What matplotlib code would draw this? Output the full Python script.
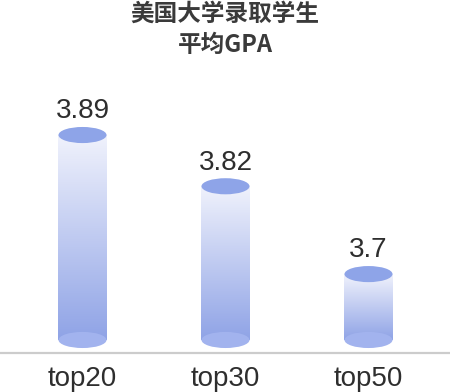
import numpy as np
import matplotlib
matplotlib.use("Agg")
import matplotlib.pyplot as plt
from matplotlib.patches import Ellipse, Rectangle
from matplotlib.colors import LinearSegmentedColormap

categories = ["top20", "top30", "top50"]
gpa = [3.89, 3.82, 3.7]
title = "美国大学录取学生\n平均GPA"

base = 3.61
bar_w = 0.336
ell_h = 0.022

fig = plt.figure(figsize=(4.5, 3.92), dpi=100)
ax = fig.add_axes([0, (392 - 353) / 392, 1, (353 - 60) / 392])

cmap = LinearSegmentedColormap.from_list("cyl", ["#8fa3e6", "#f0f2fc"])
grad = np.linspace(0, 1, 256).reshape(-1, 1)

for i, v in enumerate(gpa):
    x0 = i - bar_w / 2
    rect = Rectangle((x0, base), bar_w, v - base, facecolor="none", edgecolor="none")
    ax.add_patch(rect)
    im = ax.imshow(grad, cmap=cmap, origin="lower", aspect="auto",
                   extent=(x0, x0 + bar_w, base, v), zorder=1)
    im.set_clip_path(rect)
    ax.add_patch(Ellipse((i, base), bar_w, ell_h, facecolor="#a2b3ee",
                         edgecolor="none", zorder=2))
    ax.add_patch(Ellipse((i, v), bar_w, ell_h, facecolor="#8ea4e8",
                         edgecolor="none", zorder=3))
    ax.annotate(f"{v:g}", (i, v), xytext=(0, 12), textcoords="offset points",
                ha="center", va="baseline", fontsize=20, color="#2e2e2e",
                family="Liberation Sans")

ax.set_xlim(-0.577, 2.57)
ax.set_ylim(3.5922, 3.9925)
ax.set_xticks(range(len(categories)))
ax.set_xticklabels(categories, fontsize=20, color="#2e2e2e", family="Liberation Sans")
ax.tick_params(axis="x", length=0, pad=9)
ax.set_yticks([])
for s in ["top", "left", "right"]:
    ax.spines[s].set_visible(False)
ax.spines["bottom"].set_color("#cccccc")
ax.spines["bottom"].set_linewidth(1.6)

fig.text(0.5, 1 - 2 / 392, title, ha="center", va="top", fontsize=17,
         fontweight="bold", color="#3a3a3a", linespacing=1.35,
         family=["Noto Sans CJK SC", "DejaVu Sans"])

fig.savefig("out.png", dpi=100)
